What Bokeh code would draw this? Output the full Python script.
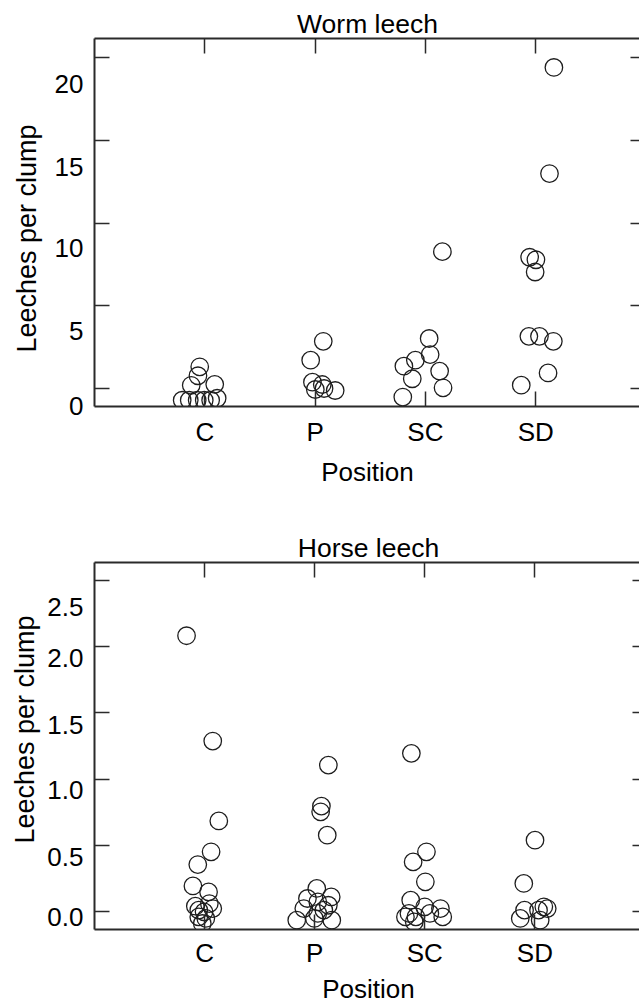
from bokeh.plotting import figure
from bokeh.models import LinearAxis, FixedTicker, Range1d, Title
from bokeh.layouts import column
from bokeh.embed import file_html
from bokeh.resources import INLINE

# ---------------- data ----------------
positions = ["C", "P", "SC", "SD"]
position_index = [1, 2, 3, 4]

worm_pos = (["C"] * 10) + (["P"] * 7) + (["SC"] * 9) + (["SD"] * 10)
worm_jitter = [-0.046, -0.062, -0.123, 0.090, 0.112, -0.205, -0.141, -0.069, -0.005, 0.053,
               0.074, -0.040, -0.024, 0.065, 0.002, 0.081, 0.182,
               0.034, 0.043, -0.091, -0.195, 0.129, -0.119, 0.160, -0.205, 0.154,
               0.165, 0.125, -0.055, 0.002, -0.005, -0.062, 0.034, 0.160, 0.112, -0.131]
worm_value = [1.31, 0.77, 0.19, 0.25, -0.59, -0.71, -0.71, -0.71, -0.71, -0.71,
              2.85, 1.71, 0.38, 0.24, -0.06, 0.00, -0.12,
              3.02, 2.05, 1.71, 1.35, 1.05, 0.59, 0.04, -0.52, 8.27,
              19.40, 12.99, 7.93, 7.78, 7.04, 3.15, 3.15, 2.85, 0.94, 0.20]

horse_pos = (["C"] * 15) + (["P"] * 15) + (["SC"] * 13) + (["SD"] * 8)
horse_jitter = [-0.164, 0.074, 0.129, 0.059, -0.062, -0.106, 0.036, -0.084, 0.043, -0.053,
                -0.005, 0.074, -0.053, 0.011, -0.021,
                0.124, 0.061, 0.054, 0.114, 0.019, -0.066, 0.150, 0.124, 0.028, -0.099,
                -0.163, -0.003, 0.155, 0.028, 0.083,
                -0.122, 0.015, -0.106, 0.005, -0.128, -0.001, 0.142, -0.144, -0.081, 0.046,
                0.163, -0.176, -0.096,
                0.001, -0.101, -0.094, -0.133, 0.081, 0.033, 0.112, 0.048]
horse_value = [2.084, 1.287, 0.683, 0.449, 0.353, 0.191, 0.146, 0.038, 0.058, 0.008,
               -0.005, 0.020, -0.043, -0.055, -0.093,
               1.105, 0.795, 0.752, 0.575, 0.172, 0.096, 0.108, 0.045, 0.070, 0.020,
               -0.068, -0.055, -0.068, -0.017, 0.008,
               1.194, 0.449, 0.373, 0.222, 0.083, 0.033, 0.020, -0.017, -0.043, -0.017,
               -0.043, -0.043, -0.081,
               0.537, 0.210, 0.008, -0.055, 0.033, 0.008, 0.020, -0.068]

worm_yticks = [0, 5, 10, 15, 20]
worm_ylabels = ["0", "5", "10", "15", "20"]
horse_yticks = [0, 0.5, 1.0, 1.5, 2.0, 2.5]
horse_ylabels = ["0.0", "0.5", "1.0", "1.5", "2.0", "2.5"]

# ---------------- styles ----------------
FONT = "Liberation Sans"
FS = "26px"
LC = "#2a2a2a"
PC = "#1e1e1e"
worm_label_nudge_px = [26, 25.7, 25.4, 26.4, 26]
horse_label_nudge_px = [5.7, 11.7, 11.0, 12.3, 11.6, 26.0]


def hide_labels(ax, ticks):
    ax.major_label_overrides = {t: "" for t in ticks}
    ax.major_label_text_font_size = "1px"
    ax.major_label_text_color = None
    ax.major_label_standoff = 0


def base_axis(ax, tick_len):
    ax.axis_line_color = LC
    ax.axis_line_width = 2
    ax.major_tick_line_color = LC
    ax.major_tick_line_width = 1.5
    ax.major_tick_in = tick_len
    ax.major_tick_out = 0
    ax.minor_tick_line_color = None
    ax.minor_tick_in = 0
    ax.minor_tick_out = 0
    ax.major_label_text_font = FONT
    ax.major_label_text_font_size = FS
    ax.major_label_text_color = "black"
    ax.axis_label_text_font = FONT
    ax.axis_label_text_font_size = FS
    ax.axis_label_text_font_style = "normal"
    ax.axis_label_text_color = "black"


def make_panel(title, cats, jitter, values, y0, y1, yticks, ylabels, nudges,
               frame_left, frame_w, frame_h, spacing, mb_top, mb_bottom,
               xlab_standoff, xaxis_label_standoff, ylab_offset, ylab_standoff):
    x_end = frame_w / spacing
    p = figure(frame_width=frame_w, frame_height=frame_h,
               x_range=Range1d(0, x_end), y_range=Range1d(y0, y1),
               output_backend="svg", toolbar_location=None,
               x_axis_location=None, y_axis_location=None,
               min_border_left=frame_left, min_border_right=0,
               min_border_top=mb_top, min_border_bottom=mb_bottom,
               title=Title(text=title, align="center", text_font=FONT,
                           text_font_size="26.5px", text_font_style="normal",
                           text_color="black", standoff=0))
    p.outline_line_color = None
    p.background_fill_color = "white"
    p.border_fill_color = "white"
    for g in p.grid:
        g.visible = False

    idx = {c: i for c, i in zip(positions, position_index)}
    xs = [idx[c] + j for c, j in zip(cats, jitter)]
    p.scatter(x=xs, y=values, marker="circle", size=17.5, fill_color=None,
              line_color=PC, line_width=1.3)

    overrides = {i: c for i, c in zip(position_index, positions)}

    bx = LinearAxis(ticker=FixedTicker(ticks=position_index),
                    major_label_overrides=overrides, axis_label="Position")
    base_axis(bx, 15)
    bx.major_label_standoff = xlab_standoff
    bx.axis_label_standoff = xaxis_label_standoff
    p.add_layout(bx, "below")

    tx = LinearAxis(ticker=FixedTicker(ticks=position_index))
    base_axis(tx, 15)
    hide_labels(tx, position_index)
    p.add_layout(tx, "above")

    lx = LinearAxis(ticker=FixedTicker(ticks=yticks))
    base_axis(lx, 15)
    hide_labels(lx, yticks)
    p.add_layout(lx, "left")

    upp = (y1 - y0) / frame_h
    lab_pos = [round(max(t - n * upp, y0 + 1e-4), 6) for t, n in zip(yticks, nudges)]
    ly = LinearAxis(ticker=FixedTicker(ticks=lab_pos),
                    major_label_overrides={pp: l for pp, l in zip(lab_pos, ylabels)})
    base_axis(ly, 0)
    ly.axis_line_color = None
    ly.major_tick_line_color = None
    ly.major_label_standoff = 11
    p.add_layout(ly, "left")

    ytitle = Title(text="Leeches per clump", align="left", offset=ylab_offset,
                   text_font=FONT, text_font_size="27px", text_font_style="normal",
                   text_color="black", standoff=ylab_standoff)
    p.add_layout(ytitle, "left")

    rx = LinearAxis(ticker=FixedTicker(ticks=yticks))
    base_axis(rx, 10)
    rx.axis_line_color = None
    hide_labels(rx, yticks)
    p.add_layout(rx, "right")
    return p


p1 = make_panel("Worm leech", worm_pos, worm_jitter, worm_value,
                -1.088, 21.15, worm_yticks, worm_ylabels, worm_label_nudge_px,
                frame_left=93, frame_w=546, frame_h=368, spacing=110.3,
                mb_top=38, mb_bottom=121,
                xlab_standoff=10, xaxis_label_standoff=7, ylab_offset=54, ylab_standoff=19)
p2 = make_panel("Horse leech", horse_pos, horse_jitter, horse_value,
                -0.1385, 2.638, horse_yticks, horse_ylabels, horse_label_nudge_px,
                frame_left=91, frame_w=548, frame_h=367, spacing=110.1,
                mb_top=35, mb_bottom=71,
                xlab_standoff=8, xaxis_label_standoff=3, ylab_offset=86, ylab_standoff=9)

layout = column(p1, p2, spacing=0)
open("out.html", "w").write(file_html(layout, INLINE))
